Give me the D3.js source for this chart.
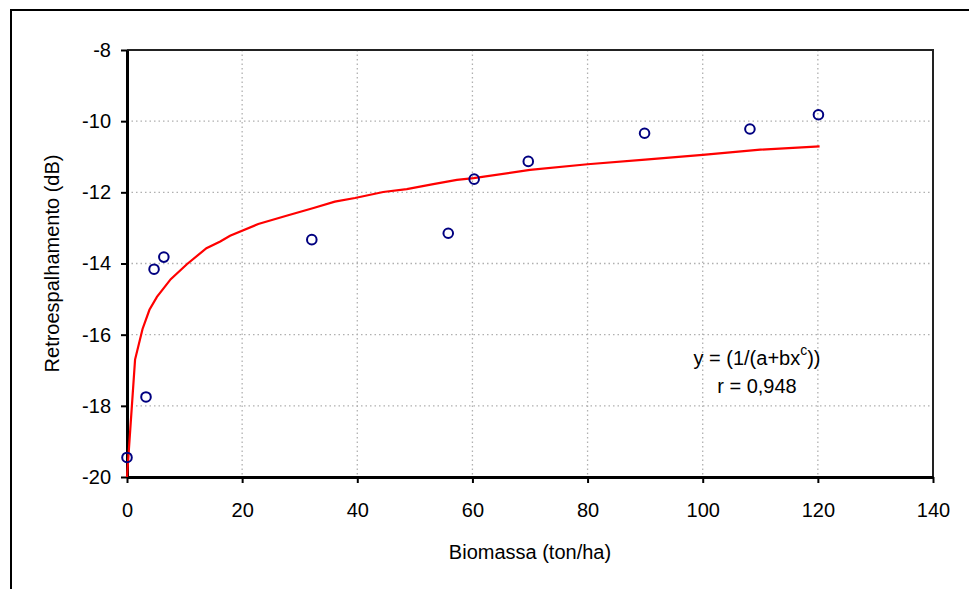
<!DOCTYPE html>
<html>
<head>
<meta charset="utf-8">
<script src="https://cdn.jsdelivr.net/npm/d3@7"></script>
<style>
  body { margin: 0; background: #fff; }
  text { font-family: "Liberation Sans", Arial, sans-serif; }
</style>
</head>
<body>
<svg id="chart"></svg>
<script>
// measured points
var biomassa = [0, 3.3, 4.7, 6.4, 32.1, 55.8, 60.3, 69.7, 89.9, 108.2, 120.1]
var retro = [-19.45, -17.75, -14.16, -13.82, -13.33, -13.15, -11.63, -11.13, -10.34, -10.22, -9.82]

// fitted curve
var curveX = [0, 1.4, 2.7, 3.9, 5.2, 7.6, 10.4, 13.8, 16.2, 17.9, 22.8, 27.7, 32.4, 36.1, 39.6, 44.5, 48.6, 53.2, 57.3, 60.2, 70, 80, 90, 100, 110, 120.3]
var curveY = [-20, -16.7, -15.84, -15.3, -14.94, -14.44, -14.02, -13.57, -13.38, -13.22, -12.89, -12.66, -12.44, -12.26, -12.16, -11.99, -11.91, -11.77, -11.65, -11.6, -11.37, -11.21, -11.08, -10.95, -10.8, -10.71]

var xTicks = [0, 20, 40, 60, 80, 100, 120, 140]
var yTicks = [-20, -18, -16, -14, -12, -10, -8]

var W = 969, H = 589
var m = {left: 127, top: 50, right: 36, bottom: 112}

var svg = d3.select('#chart').attr('width', W).attr('height', H)

// outer frame
svg.append('rect')
  .attr('x', 11).attr('y', 10)
  .attr('width', 980).attr('height', 620)
  .attr('fill', 'none').attr('stroke', '#000').attr('stroke-width', 2)

var x = d3.scaleLinear().domain([0, 140]).range([m.left, W - m.right])
var y = d3.scaleLinear().domain([-20, -8]).range([H - m.bottom, m.top])

// grid
svg.append('g').selectAll('line').data(xTicks.slice(1, -1)).enter().append('line')
  .attr('x1', function(d){ return x(d) }).attr('x2', function(d){ return x(d) })
  .attr('y1', y(-8)).attr('y2', y(-20))
  .attr('stroke', '#b0b0b0').attr('stroke-width', 1.3).attr('stroke-dasharray', '1.5,3')
svg.append('g').selectAll('line').data(yTicks.slice(1, -1)).enter().append('line')
  .attr('y1', function(d){ return y(d) }).attr('y2', function(d){ return y(d) })
  .attr('x1', x(0)).attr('x2', x(140))
  .attr('stroke', '#b0b0b0').attr('stroke-width', 1.3).attr('stroke-dasharray', '1.5,3')

// plot frame (top, right)
svg.append('path')
  .attr('d', 'M' + x(0) + ',' + y(-8) + 'H' + x(140) + 'V' + y(-20))
  .attr('fill', 'none').attr('stroke', '#222').attr('stroke-width', 2)

// axes
var xAxis = svg.append('g')
  .attr('transform', 'translate(0,' + y(-20) + ')')
  .call(d3.axisBottom(x).tickValues(xTicks).tickSize(6).tickPadding(20).tickSizeOuter(0))
var yAxis = svg.append('g')
  .attr('transform', 'translate(' + x(0) + ',0)')
  .call(d3.axisLeft(y).tickValues(yTicks).tickSize(6).tickPadding(10).tickSizeOuter(0)
    .tickFormat(function(d){ return d }))

svg.selectAll('.domain').attr('stroke', '#000').attr('stroke-width', 3)
svg.selectAll('.tick line').attr('stroke', '#000').attr('stroke-width', 2)
svg.selectAll('.tick text').attr('font-size', 20).attr('fill', '#000')
  .style('font-family', '"Liberation Sans", Arial, sans-serif')

// curve
var line = d3.line()
  .x(function(d){ return x(d[0]) })
  .y(function(d){ return y(d[1]) })
svg.append('path')
  .datum(d3.zip(curveX, curveY))
  .attr('d', line)
  .attr('fill', 'none').attr('stroke', '#ff0000').attr('stroke-width', 2.2)

// points
svg.append('g').selectAll('circle').data(d3.zip(biomassa, retro)).enter().append('circle')
  .attr('cx', function(d){ return x(d[0]) })
  .attr('cy', function(d){ return y(d[1]) })
  .attr('r', 4.8)
  .attr('fill', 'none').attr('stroke', '#000080').attr('stroke-width', 2)

// axis titles
svg.append('text')
  .attr('x', (x(0) + x(140)) / 2).attr('y', 559)
  .attr('text-anchor', 'middle').attr('font-size', 20)
  .text('Biomassa (ton/ha)')
svg.append('text')
  .attr('transform', 'translate(59,' + (y(-8) + y(-20)) / 2 + ') rotate(-90)')
  .attr('text-anchor', 'middle').attr('font-size', 20)
  .text('Retroespalhamento (dB)')

// equation
var eq = svg.append('text')
  .attr('x', 757).attr('y', 365)
  .attr('text-anchor', 'middle').attr('font-size', 20)
eq.append('tspan').text('y = (1/(a+bx')
eq.append('tspan').attr('font-size', 14).attr('dy', -10).text('c')
eq.append('tspan').attr('dy', 10).text('))')
svg.append('text')
  .attr('x', 757).attr('y', 393)
  .attr('text-anchor', 'middle').attr('font-size', 20)
  .text('r = 0,948')
</script>
</body>
</html>
